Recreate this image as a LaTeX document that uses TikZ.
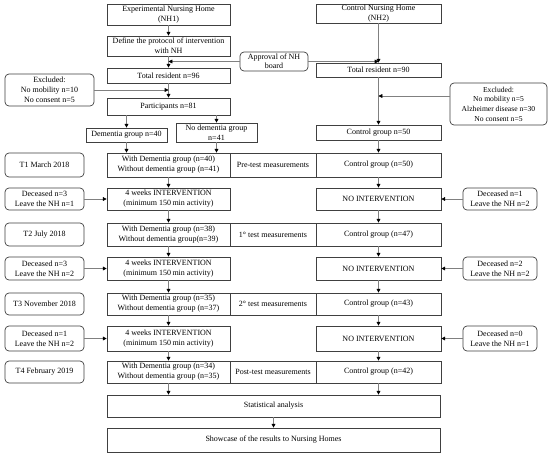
\documentclass[tikz,border=0pt]{standalone}
\usepackage{fontspec}
\setmainfont{Liberation Serif}
\usetikzlibrary{arrows.meta}
\begin{document}
\begin{tikzpicture}[x=1pt,y=-1pt,
  font=\fontsize{8}{10}\selectfont,
  bx/.style={draw=black!75, line width=0.7pt, align=center, inner sep=1pt},
  rb/.style={bx, rounded corners=4pt},
  arr/.style={draw=black!50, line width=0.6pt, -{Triangle[length=3.8pt,width=3.8pt,fill=black,color=black]}}]
\useasboundingbox[fill=white] (0,0) rectangle (550,456);
% top left
\node[bx, minimum width=123pt, minimum height=21pt] (nh1) at (168.5,14.5) {Experimental Nursing Home\\(NH1)};
\node[bx, minimum width=123pt, minimum height=20pt] (def) at (168.5,46) {Define the protocol of intervention\\with NH};
\node[bx, minimum width=123pt, minimum height=15pt] (tot96) at (168.5,75.5) {Total resident n=96};
\node[bx, minimum width=123pt, minimum height=17pt] (part) at (168.5,106.5) {Participants n=81};
\node[rb, minimum width=89pt, minimum height=32pt] (exL) at (49.5,90) {Excluded:\\No mobility n=10\\No consent n=5};
\node[rb, minimum width=68pt, minimum height=19pt, inner sep=0pt, font=\fontsize{8}{9}\selectfont] (appr) at (274,61.5) {Approval of NH\\board};
% top right
\node[bx, minimum width=125pt, minimum height=19pt] (nh2) at (378.5,13.5) {Control Nursing Home\\(NH2)};
\node[bx, minimum width=125pt, minimum height=14pt] (tot90) at (378.5,70) {Total resident n=90};
\node[rb, minimum width=97pt, minimum height=42pt, inner sep=0pt, font=\fontsize{7.6}{9.6}\selectfont] (exR) at (498.5,104) {Excluded:\\No mobility n=5\\Alzheimer disease n=30\\No consent n=5};
\node[bx, minimum width=125pt, minimum height=15pt] (ctl50) at (378.5,132.5) {Control group n=50};
\node[bx, minimum width=81pt, minimum height=14pt] (dem) at (126.5,135) {Dementia group n=40};
\node[bx, minimum width=81pt, minimum height=19pt] (nodem) at (216.5,132.5) {No dementia group\\n=41};
% T1 row
\node[rb, minimum width=79pt, minimum height=24pt] (t1) at (44.5,165) {T1 March 2018};
\node[bx, minimum width=123pt, minimum height=24pt] (w1) at (168.5,165) {With Dementia group (n=40)\\Without dementia group (n=41)};
\node[bx, minimum width=86pt, minimum height=24pt] (m1) at (273,165) {Pre-test measurements};
\node[bx, minimum width=125pt, minimum height=24pt] (c1) at (378.5,165) {Control group (n=50)};
% I1
\node[rb, minimum width=79pt, minimum height=22pt] (d1) at (44.5,199) {Deceased n=3\\Leave the NH n=1};
\node[bx, minimum width=123pt, minimum height=22pt] (i1) at (168.5,199) {4 weeks INTERVENTION\\(minimum 150\,min activity)};
\node[bx, minimum width=125pt, minimum height=22pt] (n1) at (378.5,199) {NO INTERVENTION};
\node[rb, minimum width=74pt, minimum height=22pt] (e1) at (500,199) {Deceased n=1\\Leave the NH n=2};
% T2 row
\node[rb, minimum width=79pt, minimum height=23pt] (t2) at (44.5,234.5) {T2 July 2018};
\node[bx, minimum width=123pt, minimum height=23pt] (w2) at (168.5,234.5) {With Dementia group (n=38)\\Without dementia group(n=39)};
\node[bx, minimum width=86pt, minimum height=23pt] (m2) at (273,234.5) {1° test measurements};
\node[bx, minimum width=125pt, minimum height=23pt] (c2) at (378.5,234.5) {Control group (n=47)};
% I2
\node[rb, minimum width=79pt, minimum height=23pt] (d2) at (44.5,268.5) {Deceased n=3\\Leave the NH n=2};
\node[bx, minimum width=123pt, minimum height=23pt] (i2) at (168.5,268.5) {4 weeks INTERVENTION\\(minimum 150\,min activity)};
\node[bx, minimum width=125pt, minimum height=23pt] (n2) at (378.5,268.5) {NO INTERVENTION};
\node[rb, minimum width=74pt, minimum height=23pt] (e2) at (500,268.5) {Deceased n=2\\Leave the NH n=2};
% T3 row
\node[rb, minimum width=79pt, minimum height=22pt] (t3) at (44.5,304) {T3 November 2018};
\node[bx, minimum width=123pt, minimum height=22pt] (w3) at (168.5,304) {With Dementia group (n=35)\\Without dementia group (n=37)};
\node[bx, minimum width=86pt, minimum height=22pt] (m3) at (273,304) {2° test measurements};
\node[bx, minimum width=125pt, minimum height=22pt] (c3) at (378.5,304) {Control group (n=43)};
% I3
\node[rb, minimum width=79pt, minimum height=25pt] (d3) at (44.5,338.5) {Deceased n=1\\Leave the NH n=2};
\node[bx, minimum width=123pt, minimum height=25pt] (i3) at (168.5,338.5) {4 weeks INTERVENTION\\(minimum 150\,min activity)};
\node[bx, minimum width=125pt, minimum height=25pt] (n3) at (378.5,338.5) {NO INTERVENTION};
\node[rb, minimum width=74pt, minimum height=25pt] (e3) at (500,338.5) {Deceased n=0\\Leave the NH n=1};
% T4 row
\node[rb, minimum width=79pt, minimum height=22pt] (t4) at (44.5,372) {T4 February 2019};
\node[bx, minimum width=123pt, minimum height=22pt] (w4) at (168.5,372) {With Dementia group (n=34)\\Without dementia group (n=35)};
\node[bx, minimum width=86pt, minimum height=22pt] (m4) at (273,372) {Post-test measurements};
\node[bx, minimum width=125pt, minimum height=22pt] (c4) at (378.5,372) {Control group (n=42)};
% bottom
\node[bx, minimum width=333pt, minimum height=22pt] (stat) at (273.5,406) {Statistical analysis};
\node[bx, minimum width=333pt, minimum height=24pt] (show) at (273.5,440) {Showcase of the results to Nursing Homes};
% arrows left column
\draw[arr] (nh1) -- (def);
\draw[arr] (def) -- (tot96);
\draw[arr] (tot96) -- (part);
\draw[arr] (part.south -| dem.north) -- (dem.north);
\draw[arr] (part.south -| nodem.north) -- (nodem.north);
\draw[arr] (dem.south) -- (dem.south |- w1.north);
\draw[arr] (nodem.south) -- (nodem.south |- w1.north);
\draw[arr] (w1) -- (i1);
\draw[arr] (i1) -- (w2);
\draw[arr] (w2) -- (i2);
\draw[arr] (i2) -- (w3);
\draw[arr] (w3) -- (i3);
\draw[arr] (i3) -- (w4);
\draw[arr] (w4.south) -- (w4.south |- stat.north);
% right column
\draw[arr] (nh2) -- (tot90);
\draw[arr] (tot90) -- (ctl50);
\draw[arr] (ctl50) -- (c1);
\draw[arr] (c1) -- (n1);
\draw[arr] (n1) -- (c2);
\draw[arr] (c2) -- (n2);
\draw[arr] (n2) -- (c3);
\draw[arr] (c3) -- (n3);
\draw[arr] (n3) -- (c4);
\draw[arr] (c4.south) -- (c4.south |- stat.north);
\draw[arr] (stat) -- (show);
% side arrows
\draw[arr] (appr.west) -- (appr.west -| def.south);
\draw[arr] (appr.east) -- (appr.east -| nh2.south);
\draw[arr] (exL.east) -- (exL.east -| part.north);
\coordinate (exRa) at ([yshift=8pt]exR.west);
\draw[arr] (exRa) -- (exRa -| ctl50.north);
\draw[arr] (d1) -- (i1);
\draw[arr] (d2) -- (i2);
\draw[arr] (d3) -- (i3);
\draw[arr] (e1) -- (n1);
\draw[arr] (e2) -- (n2);
\draw[arr] (e3) -- (n3);
\end{tikzpicture}
\end{document}
